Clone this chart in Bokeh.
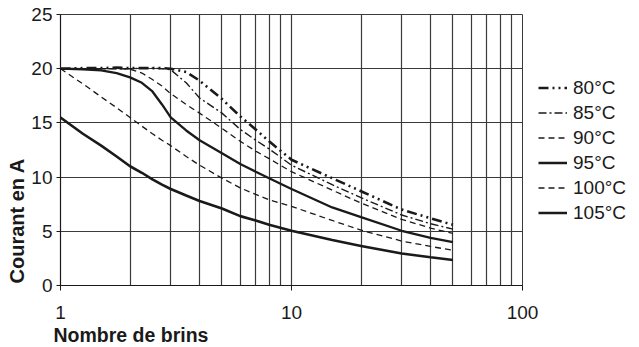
from bokeh.plotting import figure
from bokeh.models import Range1d, FixedTicker, Legend, LegendItem, Title
from bokeh.embed import file_html
from bokeh.resources import INLINE

# ---- data ----
strands = [1, 1.25, 1.5, 1.75, 2, 2.25, 2.5, 2.75, 3, 3.5, 4, 5, 6, 7, 8, 10, 15, 20, 30, 40, 50]
i_80 = [20, 20.05, 20.05, 20.1, 20.05, 20.05, 20.05, 20.05, 20.0, 19.7, 18.9, 17.2, 15.6, 14.4, 13.3, 11.6, 9.9, 8.7, 7.0, 6.2, 5.6]
i_85 = [20, 20, 20, 20, 20, 20.05, 20.05, 20.0, 19.9, 18.7, 17.3, 15.9, 14.4, 13.4, 12.6, 11.1, 9.3, 8.1, 6.5, 5.7, 5.2]
i_90 = [20, 20, 20, 20, 19.95, 19.6, 19.0, 18.4, 17.7, 16.7, 15.9, 14.5, 13.3, 12.4, 11.7, 10.5, 8.8, 7.6, 6.1, 5.3, 4.8]
i_95 = [20, 19.95, 19.85, 19.6, 19.2, 18.7, 17.9, 16.7, 15.5, 14.3, 13.4, 12.2, 11.2, 10.5, 9.9, 8.9, 7.2, 6.3, 5.05, 4.4, 4.0]
i_100 = [20, 18.6, 17.4, 16.4, 15.5, 14.7, 14.0, 13.4, 12.9, 11.9, 11.1, 9.9, 9.0, 8.4, 7.9, 7.3, 6.0, 5.1, 4.1, 3.6, 3.25]
i_105 = [15.5, 14.0, 12.9, 11.9, 11.0, 10.4, 9.8, 9.3, 8.9, 8.3, 7.8, 7.1, 6.4, 6.0, 5.6, 5.05, 4.2, 3.65, 2.95, 2.6, 2.35]
series_labels = ["80°C", "85°C", "90°C", "95°C", "100°C", "105°C"]
x_ticks = [1, 10, 100]
y_ticks = [0, 5, 10, 15, 20, 25]
x_grid = [1, 2, 3, 4, 5, 6, 7, 8, 9, 10, 20, 30, 40, 50, 60, 70, 80, 90, 100]
y_title = "Courant en A"
x_title = "Nombre de brins"

FONT = "Liberation Sans"
INK = "#1a1a1a"
GRID = "#3a3a3a"

p = figure(frame_width=462, frame_height=271, x_axis_type="log",
           x_range=Range1d(1, 100), y_range=Range1d(0, 25),
           output_backend="svg", toolbar_location=None,
           min_border_left=60, min_border_top=14,
           min_border_right=117, min_border_bottom=62)
p.outline_line_color = GRID
p.outline_line_width = 1
p.background_fill_color = "white"
p.border_fill_color = "white"

p.xgrid.ticker = FixedTicker(ticks=x_grid)
p.ygrid.ticker = FixedTicker(ticks=y_ticks)
for g in (p.xgrid, p.ygrid):
    g.grid_line_color = GRID
    g.grid_line_width = 1.2

p.xaxis.ticker = FixedTicker(ticks=x_ticks)
p.yaxis.ticker = FixedTicker(ticks=y_ticks)
p.xaxis.major_label_overrides = {1: "1", 10: "10", 100: "100"}
for ax in (p.xaxis, p.yaxis):
    ax.axis_line_color = INK
    ax.axis_line_width = 1.2
    ax.major_tick_line_color = INK
    ax.minor_tick_line_color = None
    ax.major_tick_in = 0
    ax.major_label_text_font = FONT
    ax.major_label_text_font_size = "19px"
    ax.major_label_text_color = INK
p.xaxis.major_tick_out = 5
p.xaxis.major_label_standoff = 15
p.yaxis.major_tick_out = 4
p.yaxis.major_label_standoff = 4

styles = [
    dict(line_width=2.6, line_dash="10 4 2 4 2 4"),
    dict(line_width=1.4, line_dash="8 3 2 3"),
    dict(line_width=1.3, line_dash="6 4"),
    dict(line_width=2.3, line_dash="solid"),
    dict(line_width=1.3, line_dash="6 4"),
    dict(line_width=2.6, line_dash="solid"),
]
series = [i_80, i_85, i_90, i_95, i_100, i_105]
items = []
for lab, ys, st in zip(series_labels, series, styles):
    r = p.line(strands, ys, line_color=INK, **st)
    items.append(LegendItem(label=lab, renderers=[r]))

legend = Legend(items=items, location="center_left")
legend.margin = 16
legend.padding = 0
legend.border_line_color = None
legend.background_fill_alpha = 0
legend.glyph_width = 29
legend.glyph_height = 20
legend.label_height = 20
legend.spacing = 3
legend.label_standoff = 6
legend.label_text_font = FONT
legend.label_text_font_size = "19px"
legend.label_text_color = INK
p.add_layout(legend, "right")

p.add_layout(Title(text=y_title, align="left", offset=2, standoff=2,
                   text_font=FONT, text_font_size="20px",
                   text_font_style="bold", text_color=INK), "left")
p.add_layout(Title(text=x_title, align="left", offset=-7, standoff=0,
                   text_font=FONT, text_font_size="19.5px",
                   text_font_style="bold", text_color=INK), "below")

open("out.html", "w").write(file_html(p, INLINE))
